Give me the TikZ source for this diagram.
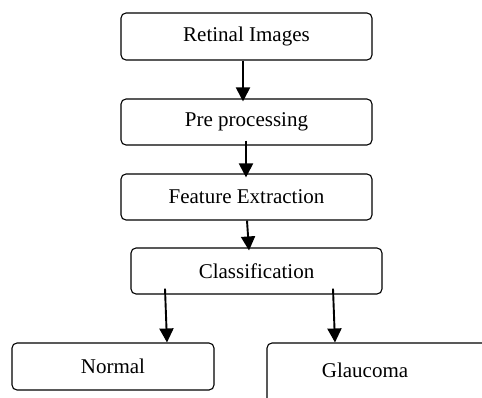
\documentclass[tikz,border=0pt]{standalone}
\usepackage{fontspec}
\setmainfont{Liberation Serif}
\usetikzlibrary{arrows.meta}
\begin{document}
\begin{tikzpicture}[x=1pt,y=-1pt,
  box/.style={draw=black, line width=1.1pt, rounded corners=5pt, inner sep=0pt, font=\fontsize{21}{24}\selectfont},
  arr/.style={line width=1.9pt, -{Triangle[width=14pt,length=14pt]}}]
\useasboundingbox (0,0) rectangle (482,397);
\clip (0,0) rectangle (482,397);
\node[box, minimum width=251pt, minimum height=47pt] (b1) at (246.5,36.5) {\raisebox{0pt}{Retinal Images}};
\node[box, minimum width=251pt, minimum height=46pt] (b2) at (246.5,122) {Pre processing};
\node[box, minimum width=251pt, minimum height=46pt] (b3) at (246.5,197) {Feature Extraction};
\node[box, minimum width=251pt, minimum height=46pt] (b4) at (256.5,271) {Classification};
\node[box, minimum width=202pt, minimum height=47pt] (normal) at (113,366.5) {Normal};
\node[box, minimum width=228pt, minimum height=77pt] (gbox) at (381,381.5) {};
\node[font=\fontsize{21}{24}\selectfont, inner sep=0pt] (gtext) at (365,370) {Glaucoma};
\draw[arr] ([xshift=-3.5pt]b1.south) -- ([xshift=-3.5pt,yshift=-3pt]b2.north);
\draw[arr] ([xshift=-0.5pt,yshift=5pt]b2.south) -- ([xshift=-0.5pt,yshift=-4pt]b3.north);
\draw[arr] ([xshift=0.5pt]b3.south) -- ([xshift=-7.5pt,yshift=-3pt]b4.north);
\draw[arr] ([xshift=-91.5pt,yshift=6pt]b4.south) -- ([xshift=54pt]normal.north);
\draw[arr] ([xshift=76.5pt,yshift=6pt]b4.south) -- ([xshift=-46pt]gbox.north);
\end{tikzpicture}
\end{document}
